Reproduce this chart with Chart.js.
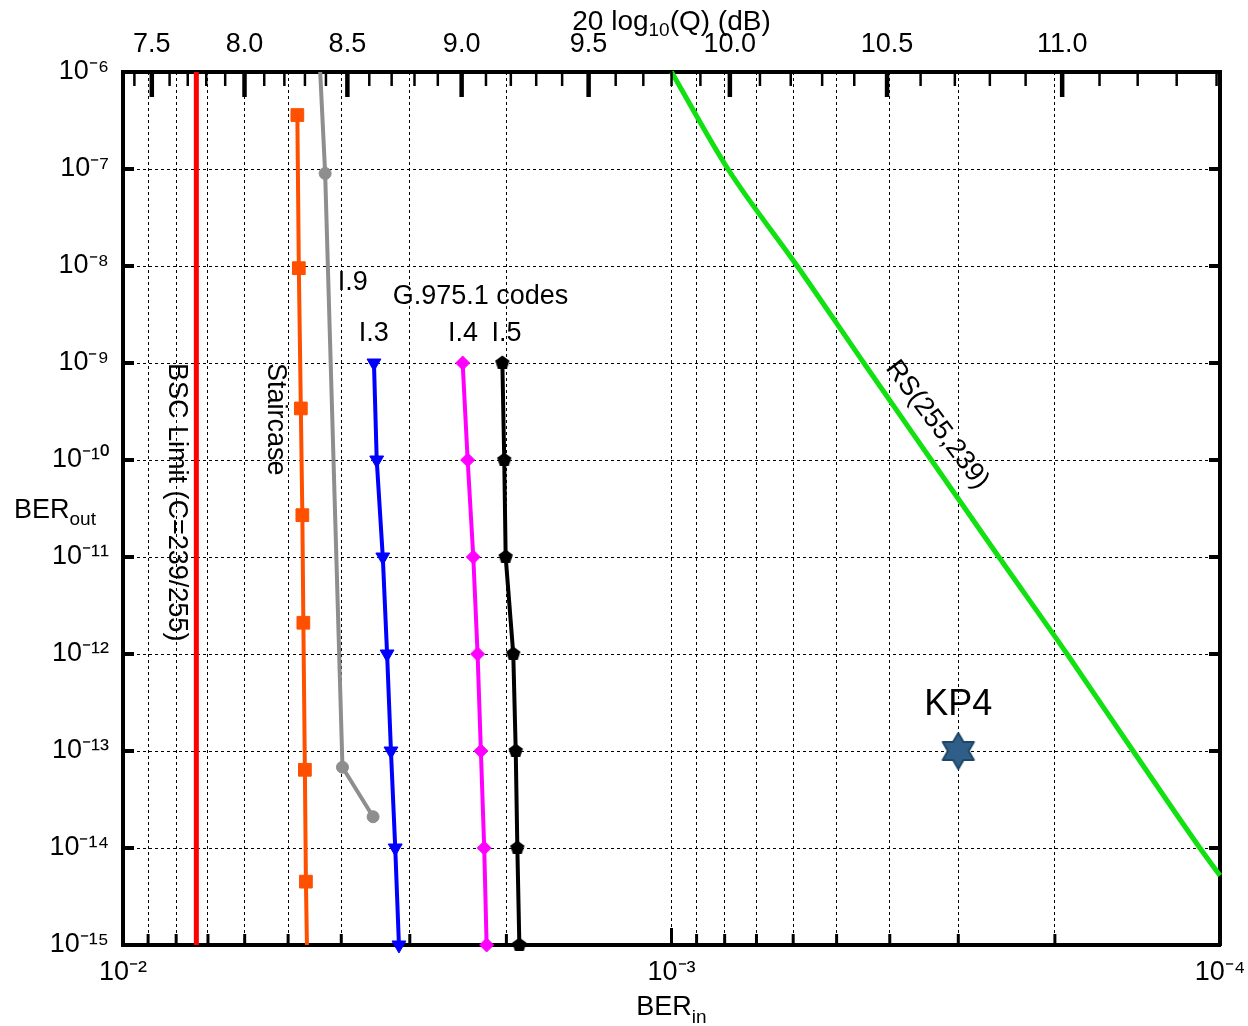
<!DOCTYPE html>
<html lang="en">
<head>
<meta charset="UTF-8" />
<title>BER out vs BER in</title>
<script src="https://cdn.jsdelivr.net/npm/chart.js"></script>
<style>
  * { margin: 0; padding: 0; box-sizing: border-box; }
  body { background: #fff; width: 1248px; height: 1026px; overflow: hidden; }
  #wrap { width: 1248px; height: 1026px; }
</style>
</head>
<body>
<div id="wrap"><canvas id="berChart" width="1248" height="1026"></canvas></div>
<script>
// values: input BER (x) and output BER (y)
const bscLimitIn  = [7.35e-3, 7.35e-3];
const bscLimitOut = [1e-6, 1e-15];

const staircaseIn  = [4.81e-3, 4.78e-3, 4.74e-3, 4.71e-3, 4.69e-3, 4.66e-3, 4.64e-3, 4.62e-3];
const staircaseOut = [3.6e-7, 9.5e-9, 3.4e-10, 2.7e-11, 2.1e-12, 6.4e-14, 4.5e-15, 1e-15];

const i9In  = [4.37e-3, 4.28e-3, 3.98e-3, 3.50e-3];
const i9Out = [1e-6, 9e-8, 6.8e-14, 2.1e-14];

const i3In  = [3.487e-3, 3.447e-3, 3.36e-3, 3.30e-3, 3.247e-3, 3.189e-3, 3.14e-3];
const i4In  = [2.403e-3, 2.353e-3, 2.298e-3, 2.257e-3, 2.226e-3, 2.195e-3, 2.173e-3];
const i5In  = [2.034e-3, 2.018e-3, 2.006e-3, 1.943e-3, 1.923e-3, 1.910e-3, 1.894e-3];
const g975Out = [1e-9, 1e-10, 1e-11, 1e-12, 1e-13, 1e-14, 1e-15];

const rsIn  = [1.0e-3, 7.89e-4, 5.90e-4, 4.46e-4, 3.36e-4, 2.53e-4, 1.90e-4, 1.44e-4, 1.088e-4, 1.0e-4];
const rsOut = [1e-6, 1e-7, 1e-8, 1e-9, 1e-10, 1e-11, 1e-12, 1e-13, 1e-14, 5.2e-15];

const kp4In  = [3.0e-4];
const kp4Out = [1e-13];

// axes
const berInDecades  = [-2, -3, -4];
const berOutDecades = [-6, -7, -8, -9, -10, -11, -12, -13, -14, -15];
const qDbMajor  = [7.5, 8.0, 8.5, 9.0, 9.5, 10.0, 10.5, 11.0];
const qDbLabels = ['7.5', '8.0', '8.5', '9.0', '9.5', '10.0', '10.5', '11.0'];
const qDbMinorFrom = 7.4, qDbMinorTo = 11.4, qDbMinorStep = 0.1;

const FONT = '"Liberation Sans", Arial, Helvetica, sans-serif';
const SUP = {'-': '\u207B', '0': '\u2070', '1': '\u00B9', '2': '\u00B2', '3': '\u00B3',
  '4': '\u2074', '5': '\u2075', '6': '\u2076', '7': '\u2077', '8': '\u2078', '9': '\u2079'};

const pts = (xs, ys) => xs.map((x, i) => ({x, y: ys[i]}));
const isPow10 = v => Math.abs(Math.log10(v) - Math.round(Math.log10(v))) < 1e-9;
const pow10Label = v => '10' + String(Math.round(Math.log10(v))).split('').map(c => SUP[c]).join('');

// Q (dB) -> BER, for the top axis
function erfc(x) {
  const z = Math.abs(x), t = 1 / (1 + 0.5 * z);
  const r = t * Math.exp(-z * z - 1.26551223 + t * (1.00002368 + t * (0.37409196 + t * (0.09678418 +
    t * (-0.18628806 + t * (0.27886807 + t * (-1.13520398 + t * (1.48851587 +
    t * (-0.82215223 + t * 0.17087277)))))))));
  return x >= 0 ? r : 2 - r;
}
const qDbToBer = db => 0.5 * erfc(Math.pow(10, db / 20) / Math.SQRT2);

const bottomTicks = [];
berInDecades.forEach(d => { for (let m = 1; m <= 9; m++) { const v = m * Math.pow(10, d); if (v <= 1.0001e-2 && v >= 0.9999e-4) bottomTicks.push(v); } });

const topTicks = [];
for (let db = qDbMinorFrom; db <= qDbMinorTo + 1e-9; db += qDbMinorStep) {
  const r = Math.round(db * 10) / 10;
  const k = qDbMajor.findIndex(m => Math.abs(m - r) < 1e-6);
  topTicks.push({value: qDbToBer(r), major: k >= 0, label: k >= 0 ? qDbLabels[k] : ''});
}
const topMajor = topTicks.filter(t => t.major);

// marker images
function pentagon(size, color) {
  const c = document.createElement('canvas'); c.width = c.height = size;
  const g = c.getContext('2d'), r = size / 2 - 0.5;
  g.beginPath();
  for (let i = 0; i < 5; i++) {
    const a = -Math.PI / 2 + i * 2 * Math.PI / 5;
    g.lineTo(size / 2 + r * Math.cos(a), size / 2 + r * Math.sin(a));
  }
  g.closePath(); g.fillStyle = color; g.fill();
  return c;
}
function hexagram(size, fill, stroke) {
  const c = document.createElement('canvas'); c.width = c.height = size;
  const g = c.getContext('2d'), R = size / 2 - 2, r = R / Math.sqrt(3);
  g.beginPath();
  for (let i = 0; i < 12; i++) {
    const a = -Math.PI / 2 + i * Math.PI / 6, rr = i % 2 ? r : R;
    g.lineTo(size / 2 + rr * Math.cos(a), size / 2 + rr * Math.sin(a));
  }
  g.closePath(); g.fillStyle = fill; g.fill();
  g.lineWidth = 2; g.lineJoin = 'round'; g.strokeStyle = stroke; g.stroke();
  return c;
}

const annotations = [
  {text: 'BSC Limit (C=239/255)', x: 8.0e-3, y: 1e-9, rot: 90, align: 'left'},
  {text: 'Staircase', x: 5.28e-3, y: 1e-9, rot: 90, align: 'left'},
  {text: 'I.9', x: 3.81e-3, y: 6.8e-9},
  {text: 'G.975.1 codes', x: 2.23e-3, y: 4.9e-9},
  {text: 'I.3', x: 3.49e-3, y: 2.0e-9},
  {text: 'I.4', x: 2.40e-3, y: 2.0e-9},
  {text: 'I.5', x: 2.0e-3, y: 2.0e-9},
  {text: 'RS(255,239)', x: 3.28e-4, y: 2.3e-10, rot: 53},
  {text: 'KP4', x: 3.0e-4, y: 3.0e-13, size: 36}
];

function drawRuns(ctx, runs, x, y, align) {
  let total = 0;
  runs.forEach(r => { ctx.font = r.size + 'px ' + FONT; r.w = ctx.measureText(r.t).width; total += r.w; });
  let cx = align === 'center' ? x - total / 2 : x;
  ctx.textAlign = 'left'; ctx.textBaseline = 'alphabetic';
  runs.forEach(r => { ctx.font = r.size + 'px ' + FONT; ctx.fillText(r.t, cx, y + (r.dy || 0)); cx += r.w; });
}

const decorations = {
  id: 'decorations',
  afterDraw(chart) {
    const {ctx, chartArea: a, scales} = chart;
    ctx.save();
    ctx.setLineDash([]);
    ctx.strokeStyle = '#000'; ctx.fillStyle = '#000'; ctx.lineCap = 'butt';
    const seg = (x1, y1, x2, y2, w) => { ctx.lineWidth = w; ctx.beginPath(); ctx.moveTo(x1, y1); ctx.lineTo(x2, y2); ctx.stroke(); };
    // inward tick marks
    scales.x.ticks.forEach(t => {
      const px = scales.x.getPixelForValue(t.value);
      const major = isPow10(t.value);
      seg(px, a.bottom, px, a.bottom - (major ? 17 : 11), 3);
    });
    topTicks.forEach(t => {
      const px = scales.x2.getPixelForValue(t.value);
      if (px < a.left || px > a.right) return;
      seg(px, a.top, px, a.top + (t.major ? 25 : 14), t.major ? 4.5 : 2.5);
    });
    scales.y.ticks.forEach(t => {
      const py = scales.y.getPixelForValue(t.value);
      seg(a.left, py, a.left + 11, py, 4);
      seg(a.right, py, a.right - 11, py, 4);
    });
    // axis titles
    drawRuns(ctx, [{t: 'BER', size: 27}, {t: 'out', size: 19, dy: 7}], a.left - 109, (a.top + a.bottom) / 2 + 9, 'left');
    drawRuns(ctx, [{t: 'BER', size: 27}, {t: 'in', size: 19, dy: 8}], (a.left + a.right) / 2, a.bottom + 70, 'center');
    drawRuns(ctx, [{t: '20 log', size: 28}, {t: '10', size: 19, dy: 6}, {t: '(Q) (dB)', size: 28}], (a.left + a.right) / 2, a.top - 42, 'center');
    // in-plot labels
    annotations.forEach(n => {
      const px = scales.x.getPixelForValue(n.x), py = scales.y.getPixelForValue(n.y);
      ctx.save();
      ctx.translate(px, py);
      if (n.rot) ctx.rotate(n.rot * Math.PI / 180);
      ctx.font = (n.size || 27) + 'px ' + FONT;
      ctx.textAlign = n.align || 'center'; ctx.textBaseline = 'middle';
      ctx.fillText(n.text, 0, 0);
      ctx.restore();
    });
    ctx.restore();
  }
};

const tickFont = {family: FONT, size: 27};
const gridOpts = {color: '#000', lineWidth: 1, drawTicks: false};
const borderOpts = {display: true, color: '#000', width: 4, dash: [3, 3]};
const line = (label, xs, ys, color, extra) => Object.assign({
  label, data: pts(xs, ys), showLine: true, borderColor: color, backgroundColor: color,
  borderWidth: 4, pointRadius: 0, pointBorderWidth: 1, pointBorderColor: color, clip: false, order: 1
}, extra || {});

new Chart(document.getElementById('berChart'), {
  type: 'scatter',
  data: {
    datasets: [
      line('BSC Limit (C=239/255)', bscLimitIn, bscLimitOut, '#ff0000', {borderWidth: 5}),
      line('Staircase', staircaseIn, staircaseOut, '#ff5000', {pointStyle: 'rect', pointRadius: [9, 9, 9, 9, 9, 9, 9, 0]}),
      line('I.9', i9In, i9Out, '#8e8e8e', {pointStyle: 'circle', pointRadius: [0, 6, 6, 6]}),
      line('I.3', i3In, g975Out, '#0000ff', {pointStyle: 'triangle', pointRotation: 180, pointRadius: 8}),
      line('I.4', i4In, g975Out, '#ff00ff', {pointStyle: 'rectRot', pointRadius: 7}),
      line('I.5', i5In, g975Out, '#000000', {pointStyle: pentagon(16, '#000'), pointRadius: 8}),
      line('RS(255,239)', rsIn, rsOut, '#11e011', {borderWidth: 5, cubicInterpolationMode: 'monotone'}),
      line('KP4', kp4In, kp4Out, '#2d5d85', {showLine: false, pointStyle: hexagram(40, '#2f5f88', '#1f4667'), pointRadius: 18})
    ]
  },
  options: {
    responsive: false,
    animation: false,
    events: [],
    layout: {padding: 0},
    plugins: {legend: {display: false}, tooltip: {enabled: false}},
    scales: {
      x: {
        type: 'logarithmic', position: 'bottom', reverse: true, min: 1e-4, max: 1e-2,
        afterBuildTicks: s => { s.ticks = bottomTicks.map(v => ({value: v})); },
        afterFit: s => { s.height = 81; },
        ticks: {autoSkip: false, maxRotation: 0, padding: 11, color: '#000', font: tickFont,
          callback: v => isPow10(v) ? pow10Label(v) : ''},
        grid: gridOpts, border: borderOpts
      },
      x2: {
        type: 'logarithmic', position: 'top', reverse: true, min: 1e-4, max: 1e-2,
        afterBuildTicks: s => { s.ticks = topMajor.map(t => ({value: t.value})); },
        afterFit: s => { s.height = 72; },
        ticks: {autoSkip: false, maxRotation: 0, padding: 11, color: '#000', font: tickFont,
          callback: (v, i) => topMajor[i].label},
        grid: {drawOnChartArea: false, drawTicks: false}, border: {display: true, color: '#000', width: 4}
      },
      y: {
        type: 'logarithmic', position: 'left', min: 1e-15, max: 1e-6,
        afterBuildTicks: s => { s.ticks = berOutDecades.map(d => ({value: Math.pow(10, d)})); },
        afterFit: s => { s.width = 123; },
        ticks: {autoSkip: false, padding: 14, color: '#000', font: tickFont, callback: v => pow10Label(v)},
        grid: gridOpts, border: borderOpts
      },
      y2: {
        type: 'logarithmic', position: 'right', min: 1e-15, max: 1e-6,
        afterFit: s => { s.width = 28; },
        ticks: {display: false},
        grid: {drawOnChartArea: false, drawTicks: false}, border: {display: true, color: '#000', width: 4}
      }
    }
  },
  plugins: [decorations]
});
</script>
</body>
</html>
